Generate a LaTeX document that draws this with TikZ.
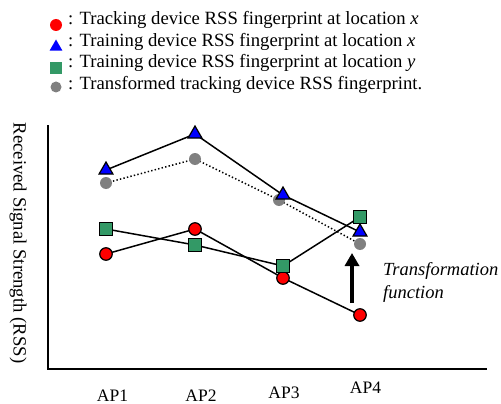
\documentclass[tikz,border=0pt]{standalone}
\usepackage{fontspec}
\setmainfont{Liberation Serif}
\usetikzlibrary{shapes.geometric,arrows.meta,backgrounds}
\definecolor{mkred}{RGB}{255,0,0}
\definecolor{mkblue}{RGB}{0,0,255}
\definecolor{mkgreen}{RGB}{51,153,102}
\definecolor{mkgray}{RGB}{128,128,128}
\begin{document}
\begin{tikzpicture}[x=1pt,y=-1pt,
  redpt/.style={circle,draw=black,line width=1.2pt,fill=mkred,minimum size=12.5pt,inner sep=0pt},
  graypt/.style={circle,fill=mkgray,minimum size=12pt,inner sep=0pt},
  bluept/.style={regular polygon,regular polygon sides=3,draw=black,line width=1.2pt,fill=mkblue,minimum size=16pt,inner sep=0pt},
  greenpt/.style={rectangle,draw=black,line width=1.2pt,fill=mkgreen,minimum size=12.5pt,inner sep=0pt},
  legred/.style={circle,fill=mkred,minimum size=12pt,inner sep=0pt},
  leggray/.style={circle,fill=mkgray,minimum size=11pt,inner sep=0pt},
  legblue/.style={regular polygon,regular polygon sides=3,fill=mkblue,minimum size=15pt,inner sep=0pt},
  leggreen/.style={rectangle,fill=mkgreen,minimum size=11.5pt,inner sep=0pt},
  legtext/.style={anchor=base west,inner sep=0pt,font=\fontsize{18.7}{22}\selectfont},
  aplabel/.style={anchor=base,inner sep=0pt,font=\fontsize{17.5}{21}\selectfont},
  tflabel/.style={anchor=base west,inner sep=0pt,font=\fontsize{18.5}{22}\selectfont},
  dataline/.style={line width=1.5pt,black},
  dotline/.style={line width=1.5pt,black,dash pattern=on 1.4pt off 2.2pt},
  axisline/.style={line width=2.2pt,black,line join=miter},
  bigarrow/.style={line width=4pt,-{Triangle[width=14pt,length=13pt]}}
]
\useasboundingbox (0,0) rectangle (501,404);

% legend
\node[legred]   (lm1) at (56,25) {};
\node[legblue]  (lm2) at (56,47) {};
\node[leggreen] (lm3) at (56,68) {};
\node[leggray]  (lm4) at (56,87) {};
\node[legtext] (lt1) at (68,25) {: Tracking device RSS fingerprint at location \textit{x}};
\node[legtext] (lt2) at (68,46.5) {: Training device RSS fingerprint at location \textit{x}};
\node[legtext] (lt3) at (68,68) {: Training device RSS fingerprint at location \textit{y}};
\node[legtext] (lt4) at (68,90) {: Transformed tracking device RSS fingerprint.};

% axes
\coordinate (ytop) at (48,125);
\coordinate (orig) at (48,369);
\coordinate (xend) at (487,369);
\draw[axisline] (ytop) -- (orig) -- (xend);

\node[rotate=-90,inner sep=0pt,font=\fontsize{18.7}{22}\selectfont] (ylab) at (18,243) {Received Signal Strength (RSS)};

\node[aplabel] (ap1) at (112.5,401) {AP1};
\node[aplabel] (ap2) at (201,401) {AP2};
\node[aplabel] (ap3) at (284,398) {AP3};
\node[aplabel] (ap4) at (365.5,393) {AP4};

% data points
\node[graypt] (c1) at (106,183) {};
\node[graypt] (c2) at (195,159) {};
\node[graypt] (c3) at (279,200) {};
\node[graypt] (c4) at (360,244) {};

\node[redpt] (r1) at (106,254) {};
\node[redpt] (r2) at (195,229) {};
\node[redpt] (r3) at (283,278) {};
\node[redpt] (r4) at (360,315) {};

\node[bluept] (b1) at (106,170) {};
\node[bluept] (b2) at (195,134) {};
\node[bluept] (b3) at (283,195) {};
\node[bluept] (b4) at (360,232) {};

\node[greenpt] (g1) at (106,229) {};
\node[greenpt] (g2) at (195,245) {};
\node[greenpt] (g3) at (283,266) {};
\node[greenpt] (g4) at (360,217) {};

\begin{scope}[on background layer]
\draw[dataline] (b1.center) -- (b2.center) -- (b3.center) -- (b4.center);
\draw[dotline] (c1.center) -- (c2.center) -- (c3.center) -- (c4.center);
\draw[dataline] (g1.center) -- (g2.center) -- (g3.center) -- (g4.center);
\draw[dataline] (r1.center) -- (r2.center) -- (r3.center) -- (r4.center);
\end{scope}

% transformation arrow
\coordinate (atail) at (352,303);
\coordinate (ahead) at (352,253);
\draw[bigarrow] (atail) -- (ahead);
\node[tflabel] (tf1) at (383,275) {\textit{Transformation}};
\node[tflabel] (tf2) at (383,298) {\textit{function}};
\end{tikzpicture}
\end{document}
